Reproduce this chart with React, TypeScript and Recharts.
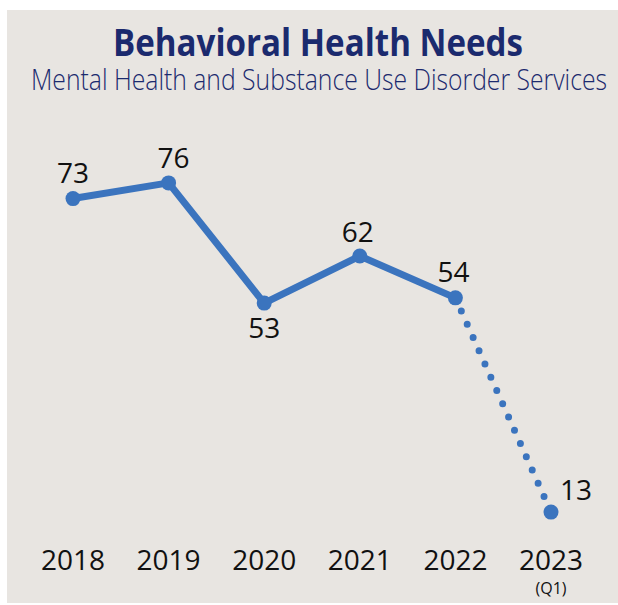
import React from 'react';
import { LineChart, Line, XAxis, YAxis, LabelList } from 'recharts';

const years = ['2018', '2019', '2020', '2021', '2022', '2023'];
const needs = [73, 76, 53, 62, 54, 13];
// last year is only Q1, drawn dotted from 2022
const solidUntil = 4;

const data = years.map((year, i) => ({
  year,
  solid: i <= solidUntil ? needs[i] : null,
  partial: i >= solidUntil ? needs[i] : null,
}));

const BLUE = '#3b74be';
const FONT = "'Open Sans', sans-serif";

const YearTick = (props: any) => {
  const { x, y, payload } = props;
  return (
    <g>
      <text x={x} y={y - 18} textAnchor="middle" fontFamily={FONT} fontSize={28} fill="#111">
        {payload.value}
      </text>
      {payload.value === '2023' && (
        <text x={x} y={y + 6} textAnchor="middle" fontFamily={FONT} fontSize={16} fill="#111">
          (Q1)
        </text>
      )}
    </g>
  );
};

const labelPos: Record<number, { dx: number; dy: number }> = {
  0: { dx: 0, dy: -16 },
  1: { dx: 5, dy: -15 },
  2: { dx: 0, dy: 35 },
  3: { dx: -2, dy: -14 },
  4: { dx: -2, dy: -16 },
};

const SolidLabel = (props: any) => {
  const { x, y, value, index } = props;
  if (value == null) return null;
  const p = labelPos[index] || { dx: 0, dy: -16 };
  return (
    <text x={x + p.dx} y={y + p.dy} textAnchor="middle" fontFamily={FONT} fontSize={28} fill="#111">
      {value}
    </text>
  );
};

const PartialLabel = (props: any) => {
  const { x, y, value, index } = props;
  if (value == null || index !== 5) return null;
  return (
    <text x={x + 25} y={y - 12} textAnchor="middle" fontFamily={FONT} fontSize={28} fill="#111">
      {value}
    </text>
  );
};

const bigDot = (props: any) => {
  const { cx, cy, value, index } = props;
  if (value == null) return <g key={`e${index}`} />;
  return <circle key={`d${index}`} cx={cx} cy={cy} r={7.5} fill={BLUE} />;
};

const partialDot = (props: any) => {
  const { cx, cy, index } = props;
  if (index !== 5) return <g key={`p${index}`} />;
  return <circle key={`p${index}`} cx={cx} cy={cy} r={7.5} fill={BLUE} />;
};

export default function App() {
  return (
    <div style={{ position: 'absolute', left: 7, top: 10, width: 611, height: 593, background: '#e8e5e1' }}>
      <svg width={611} height={110} style={{ position: 'absolute', left: 0, top: 0 }}>
        <text x={311} y={46} textAnchor="middle" fontFamily={FONT} fontWeight={700}
          fontSize={38} fill="#1b2a6e" textLength={410} lengthAdjust="spacingAndGlyphs">
          Behavioral Health Needs
        </text>
        <text x={312} y={80} textAnchor="middle" fontFamily={FONT} fontWeight={300}
          fontSize={29} fill="#1b2a6e" textLength={576} lengthAdjust="spacingAndGlyphs">
          Mental Health and Substance Use Disorder Services
        </text>
      </svg>
      <LineChart width={611} height={593} data={data} margin={{ top: 152, right: 67, bottom: 0, left: 66 }}
        style={{ position: 'absolute', left: 0, top: 0 }}>
        <XAxis dataKey="year" axisLine={false} tickLine={false} height={23} tick={<YearTick />} interval={0} />
        <YAxis hide domain={[0, 80]} />
        <Line dataKey="partial" stroke={BLUE} strokeWidth={7} strokeDasharray="0 14.5" strokeLinecap="round"
          dot={partialDot} activeDot={false} isAnimationActive={false}>
          <LabelList dataKey="partial" content={<PartialLabel />} />
        </Line>
        <Line dataKey="solid" stroke={BLUE} strokeWidth={7} strokeLinejoin="round"
          dot={bigDot} activeDot={false} isAnimationActive={false}>
          <LabelList dataKey="solid" content={<SolidLabel />} />
        </Line>
      </LineChart>
    </div>
  );
}
